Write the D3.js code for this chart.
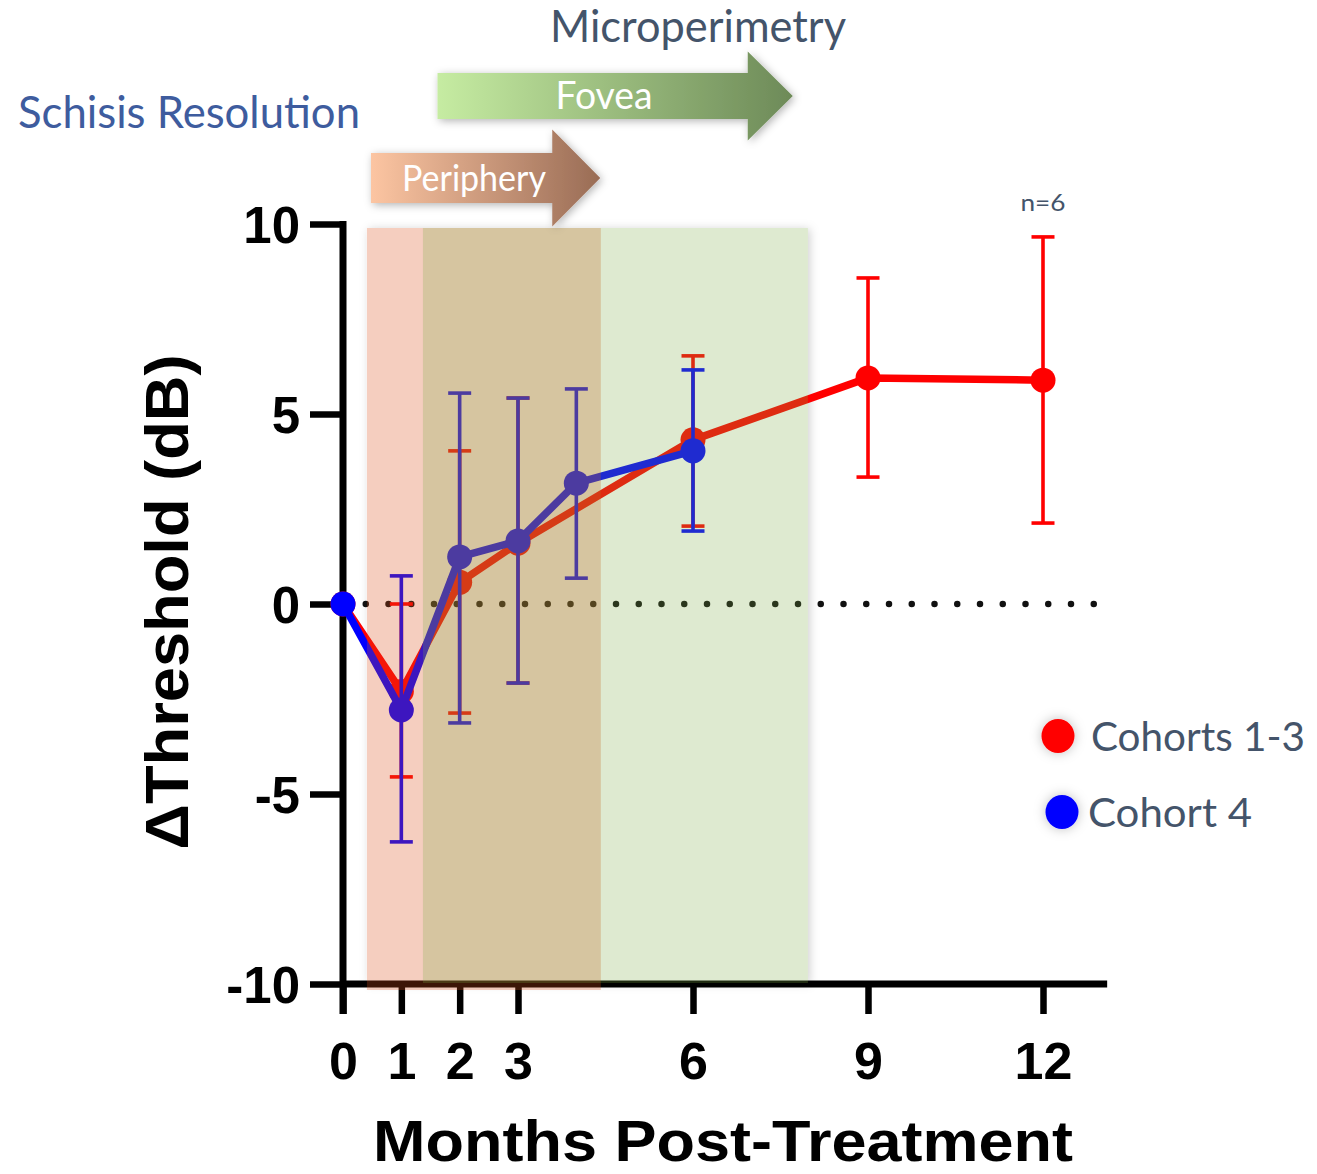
<!DOCTYPE html>
<html><head><meta charset="utf-8">
<script src="https://cdn.jsdelivr.net/npm/d3@7"></script>
<style>body{margin:0;background:#fff} svg{display:block}</style>
</head><body>
<svg id="c" width="1317" height="1174"></svg>
<script>
// ---- data ----
const xTicks = [0, 1, 2, 3, 6, 9, 12];
const yTicks = [-10, -5, 0, 5, 10];
const cohorts13Months = [0, 1, 2, 3, 6, 9, 12];
const cohorts13Mean  = [0, -2.3, 0.57, 1.6, 4.32, 5.95, 5.89];
const cohorts13Upper = [null, 0.0, 4.03, 5.42, 6.53, 8.58, 9.66];
const cohorts13Lower = [null, -4.55, -2.87, -2.08, 2.05, 3.34, 2.13];
const cohort4Months = [0, 1, 2, 3, 4, 6];
const cohort4Mean  = [0, -2.79, 1.24, 1.66, 3.18, 4.03];
const cohort4Upper = [null, 0.74, 5.55, 5.42, 5.66, 6.16];
const cohort4Lower = [null, -6.26, -3.13, -2.08, 0.68, 1.92];
const bandNames = ["Periphery", "Fovea"];
const bandStart = [0.41, 1.37];
const bandEnd   = [4.42, 7.97];
const arrowStart = [0.48, 1.62];
const arrowEnd   = [4.41, 7.71];
const legendLabels = ["Cohorts 1-3", "Cohort 4"];
const nLabel = "n=6";
const nLabelMonth = 12;

// ---- setup ----
const svg = d3.select("#c");
const x = d3.scaleLinear().domain([0, 12]).range([343, 1043]);
const y = d3.scaleLinear().domain([-10, 10]).range([984, 224]);
const xMax = 13.1;
const tickFont = "'Liberation Sans', Arial, Helvetica, sans-serif";
const calFont = "Lato, 'Open Sans', sans-serif";

const defs = svg.append("defs");
const sh = defs.append("filter").attr("id", "shadow").attr("x", "-20%").attr("y", "-40%").attr("width", "140%").attr("height", "180%");
sh.append("feDropShadow").attr("dx", 2).attr("dy", 2).attr("stdDeviation", 4).attr("flood-color", "#000").attr("flood-opacity", 0.3);
const glow = defs.append("filter").attr("id", "glow").attr("x", "-100%").attr("y", "-100%").attr("width", "300%").attr("height", "300%");
glow.append("feDropShadow").attr("dx", 0).attr("dy", 0).attr("stdDeviation", 6).attr("flood-color", "#000").attr("flood-opacity", 0.25);
const bsh = defs.append("filter").attr("id", "bshadow").attr("x", "-10%").attr("y", "-10%").attr("width", "120%").attr("height", "120%");
bsh.append("feDropShadow").attr("dx", 2).attr("dy", 1).attr("stdDeviation", 5).attr("flood-color", "#000").attr("flood-opacity", 0.18);

const gradFovea = defs.append("linearGradient").attr("id", "gF");
gradFovea.append("stop").attr("offset", "0%").attr("stop-color", "#c6eca2");
gradFovea.append("stop").attr("offset", "100%").attr("stop-color", "#6d8a58");
const gradPer = defs.append("linearGradient").attr("id", "gP");
gradPer.append("stop").attr("offset", "0%").attr("stop-color", "#fcc5a2");
gradPer.append("stop").attr("offset", "100%").attr("stop-color", "#996c55");

// band shadows (white base with soft shadow, under everything)
const bandTop = y(10) + 4;
const bandBottom = [y(-10) + 6, y(-10) - 1];
svg.append("rect").attr("x", x(bandStart[0])).attr("width", x(bandEnd[1]) - x(bandStart[0]))
  .attr("y", bandTop).attr("height", bandBottom[1] - bandTop)
  .attr("fill", "#fff").attr("filter", "url(#bshadow)");

// ---- axes ----
const xAxis = d3.axisBottom(x).tickValues(xTicks).tickSize(30).tickSizeOuter(0).tickFormat(d => String(d));
const gx = svg.append("g").attr("transform", `translate(0,${y(-10)})`).call(xAxis);
gx.select(".domain").remove();
gx.append("line").attr("x1", x(0) - 3).attr("x2", x(xMax)).attr("y1", 0).attr("y2", 0)
  .attr("stroke", "#000").attr("stroke-width", 7);
gx.selectAll(".tick line").attr("stroke", "#000").attr("stroke-width", 6.5);
gx.selectAll(".tick text").attr("y", 95).attr("dy", 0)
  .attr("font-family", tickFont).attr("font-weight", "bold").attr("font-size", 52).attr("fill", "#000");

const yAxis = d3.axisLeft(y).tickValues(yTicks).tickSize(33).tickPadding(10).tickSizeOuter(0).tickFormat(d => String(d));
const gy = svg.append("g").attr("transform", `translate(${x(0)},0)`).call(yAxis);
gy.select(".domain").remove();
gy.append("line").attr("x1", 0).attr("x2", 0).attr("y1", y(10) - 3).attr("y2", y(-10) + 30)
  .attr("stroke", "#000").attr("stroke-width", 7);
gy.selectAll(".tick line").attr("stroke", "#000").attr("stroke-width", 6.5);
gy.selectAll(".tick text").attr("dy", "0.36em")
  .attr("font-family", tickFont).attr("font-weight", "bold").attr("font-size", 51).attr("fill", "#000");

// zero dotted line
svg.append("line").attr("x1", x(0)).attr("x2", x(12.97)).attr("y1", y(0)).attr("y2", y(0))
  .attr("stroke", "#111").attr("stroke-width", 6.5).attr("stroke-linecap", "round")
  .attr("stroke-dasharray", "0 22.75");

// axis titles
svg.append("text").attr("transform", `translate(188,${y(0) - 2}) rotate(-90)`)
  .attr("text-anchor", "middle").attr("font-family", tickFont).attr("font-weight", "bold")
  .attr("font-size", 62).attr("textLength", 495).attr("lengthAdjust", "spacingAndGlyphs")
  .text("\u0394Threshold (dB)");
svg.append("text").attr("x", 723).attr("y", 1161).attr("text-anchor", "middle")
  .attr("font-family", tickFont).attr("font-weight", "bold").attr("font-size", 58)
  .attr("textLength", 700).attr("lengthAdjust", "spacingAndGlyphs")
  .text("Months Post-Treatment");

// ---- series ----
function drawSeries(months, mean, upper, lower, color) {
  const pts = months.map((m, i) => ({m, v: mean[i], u: upper[i], l: lower[i]}));
  const g = svg.append("g");
  g.append("path").datum(pts)
    .attr("d", d3.line().x(d => x(d.m)).y(d => y(d.v)))
    .attr("fill", "none").attr("stroke", color).attr("stroke-width", 7.5).attr("stroke-linejoin", "round");
  const eb = g.selectAll(".eb").data(pts.filter(d => d.u != null)).join("g");
  eb.append("line").attr("x1", d => x(d.m)).attr("x2", d => x(d.m))
    .attr("y1", d => y(d.u)).attr("y2", d => y(d.l)).attr("stroke", color).attr("stroke-width", 3.6);
  eb.append("line").attr("x1", d => x(d.m) - 11.5).attr("x2", d => x(d.m) + 11.5)
    .attr("y1", d => y(d.u)).attr("y2", d => y(d.u)).attr("stroke", color).attr("stroke-width", 3.6);
  eb.append("line").attr("x1", d => x(d.m) - 11.5).attr("x2", d => x(d.m) + 11.5)
    .attr("y1", d => y(d.l)).attr("y2", d => y(d.l)).attr("stroke", color).attr("stroke-width", 3.6);
  g.selectAll("circle").data(pts).join("circle")
    .attr("cx", d => x(d.m)).attr("cy", d => y(d.v)).attr("r", 12.5).attr("fill", color);
}
drawSeries(cohorts13Months, cohorts13Mean, cohorts13Upper, cohorts13Lower, "#ff0000");
drawSeries(cohort4Months, cohort4Mean, cohort4Upper, cohort4Lower, "#0000ff");

// ---- translucent bands (drawn over data) ----
const bandFill = ["rgb(220,78,25)", "rgb(123,172,68)"];
const bandOpacity = [0.28, 0.25];
bandNames.forEach((n, i) => {
  svg.append("rect").attr("x", x(bandStart[i])).attr("width", x(bandEnd[i]) - x(bandStart[i]))
    .attr("y", bandTop).attr("height", bandBottom[i] - bandTop)
    .attr("fill", bandFill[i]).attr("fill-opacity", bandOpacity[i]);
});

// ---- arrows ----
function arrowPath(x0, x1, cy, bodyH, headH, headL) {
  const xb = x1 - headL;
  return `M${x0},${cy - bodyH / 2}L${xb},${cy - bodyH / 2}L${xb},${cy - headH / 2}L${x1},${cy}` +
         `L${xb},${cy + headH / 2}L${xb},${cy + bodyH / 2}L${x0},${cy + bodyH / 2}Z`;
}
const arrowCY = [178, 96];
const arrowBody = [50, 46];
const arrowHead = [97, 89];
const arrowHeadL = [48, 45];
const arrowGrad = ["url(#gP)", "url(#gF)"];
const arrowTextSize = [36, 39];
const arrowTextLen = [144, 97];
const arrowTextX = [474, 604];
bandNames.forEach((n, i) => {
  svg.append("path").attr("d", arrowPath(x(arrowStart[i]), x(arrowEnd[i]), arrowCY[i], arrowBody[i], arrowHead[i], arrowHeadL[i]))
    .attr("fill", arrowGrad[i]).attr("filter", "url(#shadow)");
});
bandNames.forEach((n, i) => {
  svg.append("text").attr("x", arrowTextX[i]).attr("y", arrowCY[i] + 13).attr("text-anchor", "middle")
    .attr("font-family", calFont).attr("font-size", arrowTextSize[i]).attr("fill", "#fff")
    .attr("textLength", arrowTextLen[i]).attr("lengthAdjust", "spacingAndGlyphs").text(n);
});

// titles
svg.append("text").attr("x", 698).attr("y", 42).attr("text-anchor", "middle")
  .attr("font-family", calFont).attr("font-size", 44).attr("fill", "#44546a")
  .attr("textLength", 296).attr("lengthAdjust", "spacingAndGlyphs").text("Microperimetry");
svg.append("text").attr("x", 18).attr("y", 128)
  .attr("font-family", calFont).attr("font-size", 44).attr("fill", "#3e5c9e")
  .attr("textLength", 342).attr("lengthAdjust", "spacingAndGlyphs").text("Schisis Resolution");
svg.append("text").attr("x", x(nLabelMonth)).attr("y", 211).attr("text-anchor", "middle")
  .attr("font-family", calFont).attr("font-size", 23).attr("fill", "#44546a")
  .attr("textLength", 45).attr("lengthAdjust", "spacingAndGlyphs").text(nLabel);

// legend
const legColors = ["#ff0000", "#0000ff"];
const legCX = [1058, 1062];
const legCY = [736, 812];
const legTX = [1091, 1088];
const legTL = [214, 164];
legendLabels.forEach((l, i) => {
  svg.append("ellipse").attr("cx", legCX[i]).attr("cy", legCY[i]).attr("rx", 16.5).attr("ry", 17)
    .attr("fill", legColors[i]).attr("filter", "url(#glow)");
  svg.append("text").attr("x", legTX[i]).attr("y", legCY[i] + 15)
    .attr("font-family", calFont).attr("font-size", 41).attr("fill", "#44546a")
    .attr("textLength", legTL[i]).attr("lengthAdjust", "spacingAndGlyphs").text(l);
});
</script>
</body></html>
